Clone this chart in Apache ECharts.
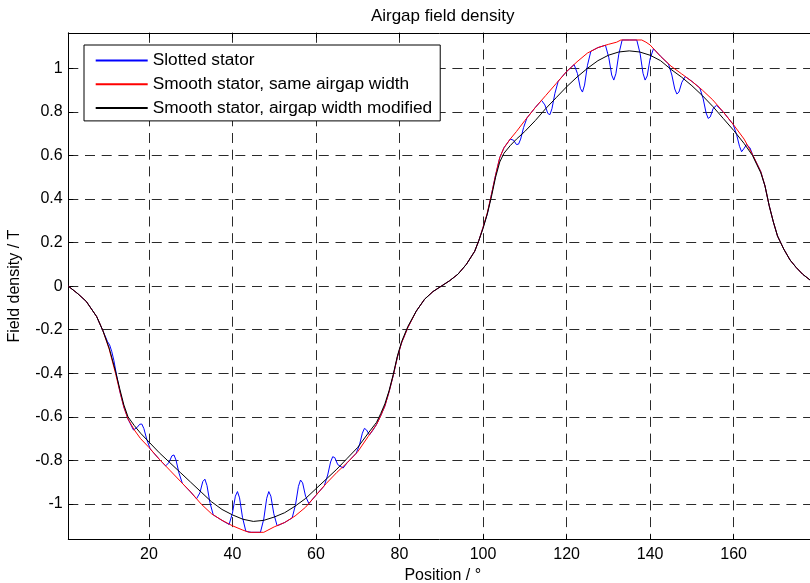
<!DOCTYPE html>
<html>
<head>
<meta charset="utf-8">
<title>Airgap field density</title>
<script src="https://cdn.jsdelivr.net/npm/echarts@6/dist/echarts.min.js"></script>
<style>
  html, body { margin: 0; padding: 0; background: #fff; }
  #chart { width: 810px; height: 583px; }
</style>
</head>
<body>
<div id="chart"></div>
<script>
// Tick positions and legend names
const xTicks = [20, 40, 60, 80, 100, 120, 140, 160];
const yTicks = [-1, -0.8, -0.6, -0.4, -0.2, 0, 0.2, 0.4, 0.6, 0.8, 1];
const seriesNames = [
  'Slotted stator',
  'Smooth stator, same airgap width',
  'Smooth stator, airgap width modified'
];

// Slotted stator: position (deg) and field density (T)
const slottedPos = [
  0.7, 3, 5, 7.5, 9.1, 10.1, 10.6, 11.1, 11.6, 12.3, 13.1, 14, 15,
  16.3, 17.1, 17.8, 18.3, 18.8, 19.5, 20.3, 22.5,
  24.0, 24.8, 25.5, 26.0, 26.5, 27.2, 28.0, 30,
  31.4, 32.2, 32.9, 33.4, 33.9, 34.6, 35.4, 37.5,
  39.2, 40.0, 40.7, 41.2, 41.7, 42.4, 43.2, 44.5,
  46.7, 47.5, 48.2, 48.7, 49.2, 49.9, 50.7, 52.5,
  54.3, 55.1, 55.8, 56.3, 56.8, 57.5, 58.3, 60,
  62.0, 62.8, 63.5, 64.0, 64.5, 65.2, 66.5, 67.5,
  69.6, 70.4, 71.1, 71.6, 72.1, 72.8, 73.6, 74.5,
  75.5, 76.5, 77.5, 78.5, 79.5, 80.5, 82, 84, 86, 88, 90,
  92, 94, 96, 98, 99, 100, 101, 102, 103, 104, 105,
  106.5, 107.3, 108.0, 108.5, 109.0, 109.7, 110.5, 112.5,
  114.0, 114.8, 115.5, 116.0, 116.5, 117.2, 118.0, 120,
  121.8, 122.6, 123.3, 123.8, 124.3, 125.0, 125.8, 127.5,
  129.3, 130.1, 130.8, 131.3, 131.8, 132.5, 133.3, 135,
  136.8, 137.6, 138.3, 138.8, 139.3, 140.0, 140.8, 142.5,
  144.4, 145.2, 145.9, 146.4, 146.9, 147.6, 148.4, 150,
  151.9, 152.7, 153.4, 153.9, 154.4, 155.1, 155.9, 157.5,
  159.9, 160.7, 161.4, 161.9, 162.4, 163.1, 163.9, 164.5,
  165.5, 166.5, 167.5, 168.5, 169.5, 170.5, 172, 173.5, 175, 176.5, 178.3, 180
];
const slottedB = [
  0, -0.035, -0.07, -0.14, -0.21, -0.255, -0.27, -0.30, -0.34, -0.414, -0.488, -0.555, -0.61,
  -0.66, -0.65, -0.634, -0.633, -0.654, -0.704, -0.747, -0.795,
  -0.825, -0.81, -0.779, -0.775, -0.799, -0.858, -0.905, -0.945,
  -0.976, -0.949, -0.897, -0.886, -0.915, -0.993, -1.05, -1.075,
  -1.094, -1.042, -0.964, -0.943, -0.972, -1.061, -1.125, -1.13,
  -1.13, -1.069, -0.974, -0.943, -0.964, -1.045, -1.10, -1.085,
  -1.064, -1.003, -0.919, -0.89, -0.903, -0.964, -0.998, -0.96,
  -0.916, -0.867, -0.807, -0.783, -0.787, -0.819, -0.835, -0.81,
  -0.768, -0.73, -0.675, -0.653, -0.66, -0.683, -0.662, -0.635,
  -0.595, -0.55, -0.485, -0.41, -0.325, -0.26, -0.19, -0.115, -0.06, -0.025, 0,
  0.025, 0.055, 0.1, 0.16, 0.21, 0.27, 0.33, 0.42, 0.51, 0.59, 0.635,
  0.675, 0.67, 0.65, 0.652, 0.675, 0.728, 0.772, 0.82,
  0.853, 0.832, 0.793, 0.787, 0.815, 0.885, 0.941, 0.985,
  1.017, 0.976, 0.908, 0.891, 0.923, 1.014, 1.078, 1.095,
  1.106, 1.05, 0.969, 0.946, 0.975, 1.065, 1.13, 1.13,
  1.13, 1.068, 0.977, 0.946, 0.965, 1.045, 1.09, 1.055,
  1.02, 0.969, 0.905, 0.882, 0.891, 0.936, 0.962, 0.94,
  0.91, 0.86, 0.795, 0.77, 0.777, 0.816, 0.83, 0.80,
  0.742, 0.696, 0.642, 0.617, 0.63, 0.65, 0.635, 0.605,
  0.565, 0.525, 0.46, 0.37, 0.295, 0.23, 0.17, 0.12, 0.085, 0.055, 0.028, 0.005
];

// Smooth stator, same airgap width
const smoothPos = [
  0.7, 3, 5, 7.5, 9, 10.5, 12, 13, 14, 15, 16.5, 18, 20, 22.5, 25, 27.5, 30, 32.5, 35, 37.5,
  40, 42.5, 44, 47.5, 48.5, 50, 52.5, 55, 57.5, 60, 62.5, 65, 67.5, 70, 72.5, 74.5, 75.5, 76.5,
  77.5, 78.5, 79.5, 80.5, 82, 84, 86, 88, 90, 92, 94, 96, 98, 99, 100, 101, 102, 103, 104, 105,
  106.5, 108, 110, 112.5, 115, 117.5, 120, 122.5, 125, 127.5, 130, 132, 133, 138, 139, 140,
  142.5, 145, 147.5, 150, 152.5, 155, 157.5, 160, 162.5, 164.5, 165.5, 166.5, 167.5, 168.5,
  169.5, 170.5, 172, 173.5, 175, 176.5, 178.3, 180
];
const smoothB = [
  0, -0.035, -0.07, -0.14, -0.205, -0.29, -0.40, -0.48, -0.555, -0.61, -0.66, -0.70, -0.74, -0.795, -0.845, -0.895, -0.945, -1.0, -1.045, -1.075,
  -1.10, -1.12, -1.13, -1.13, -1.12, -1.105, -1.085, -1.055, -1.015, -0.96, -0.905, -0.855, -0.81, -0.76, -0.69, -0.635, -0.595, -0.55,
  -0.485, -0.41, -0.325, -0.26, -0.19, -0.115, -0.06, -0.025, 0, 0.025, 0.055, 0.1, 0.16, 0.21, 0.27, 0.335, 0.42, 0.51, 0.59, 0.635,
  0.675, 0.71, 0.76, 0.82, 0.875, 0.93, 0.985, 1.03, 1.07, 1.095, 1.11, 1.12, 1.13, 1.13, 1.12, 1.107,
  1.055, 1.01, 0.975, 0.94, 0.90, 0.855, 0.80, 0.74, 0.675, 0.605, 0.565, 0.525, 0.46, 0.37,
  0.295, 0.23, 0.17, 0.12, 0.085, 0.055, 0.028, 0.005
];

// Smooth stator, airgap width modified
const modifiedPos = [
  0.7, 3, 5, 7.5, 9, 10.5, 12, 13, 14, 15, 16.5, 18, 20, 22.5, 25, 27.5, 30, 32.5, 35, 37.5, 40, 42.5,
  45, 47.5, 50, 52.5, 55, 57.5, 60, 62.5, 65, 67.5, 70, 72.5,
  74.5, 75.5, 76.5, 77.5, 78.5, 79.5, 80.5,
  82, 84, 86, 88, 90,
  92, 94, 96, 98, 99, 100, 101, 102, 103, 104, 105,
  106.5, 108, 110, 112.5, 115, 117.5, 120, 122.5, 125, 127.5, 130, 132.5, 135, 137.5, 140, 142.5, 145, 147.5, 150, 152.5, 155, 157.5, 160, 162.5,
  164.5, 165.5, 166.5, 167.5, 168.5, 169.5, 170.5,
  172, 173.5, 175, 176.5, 178.3, 180
];
const modifiedB = [
  0, -0.035, -0.07, -0.14, -0.205, -0.285, -0.39, -0.47, -0.545, -0.60, -0.64, -0.675, -0.715, -0.765, -0.81, -0.855, -0.90, -0.945, -0.99, -1.025, -1.05, -1.07,
  -1.08, -1.075, -1.06, -1.04, -1.01, -0.975, -0.93, -0.885, -0.84, -0.79, -0.74, -0.675,
  -0.625, -0.585, -0.54, -0.48, -0.405, -0.32, -0.255,
  -0.185, -0.115, -0.06, -0.025, 0,
  0.025, 0.055, 0.1, 0.16, 0.21, 0.265, 0.33, 0.41, 0.5, 0.57, 0.61,
  0.645, 0.675, 0.71, 0.76, 0.815, 0.865, 0.915, 0.96, 1.0, 1.035, 1.06, 1.075, 1.08, 1.075, 1.06, 1.035, 0.995, 0.96, 0.92, 0.875, 0.825, 0.77, 0.715, 0.655,
  0.60, 0.56, 0.52, 0.46, 0.37, 0.295, 0.23,
  0.17, 0.12, 0.085, 0.055, 0.028, 0.005
];

const FONT = '"Liberation Sans", Arial, Helvetica, sans-serif';
const GRID_LINE = { color: '#2a2a2a', width: 1, type: [10, 6.7] };

function pairs(xs, ys) {
  return xs.map(function (x, i) { return [x, ys[i]]; });
}

const chart = echarts.init(document.getElementById('chart'), null, { renderer: 'canvas' });

const lineSeries = function (name, xs, ys, color) {
  return {
    name: name,
    type: 'line',
    data: pairs(xs, ys),
    symbol: 'none',
    smooth: false,
    clip: true,
    lineStyle: { color: color, width: 1 },
    itemStyle: { color: color },
    emphasis: { disabled: true }
  };
};

chart.setOption({
  animation: false,
  backgroundColor: '#fff',
  title: {
    text: 'Airgap field density',
    left: 442.7,
    top: 8,
    textAlign: 'center',
    padding: 0,
    textStyle: { fontFamily: FONT, fontSize: 17, fontWeight: 'normal', color: '#000' }
  },
  legend: {
    orient: 'vertical',
    left: 84,
    top: 45,
    padding: [7, 8, 4.5, 10.7],
    itemGap: 6.7,
    itemWidth: 52,
    itemHeight: 17,
    backgroundColor: '#fff',
    borderColor: '#000',
    borderWidth: 1,
    borderRadius: 0,
    selectedMode: false,
    // line-only keys: hide the marker drawn in the middle of each key
    itemStyle: { opacity: 0 },
    textStyle: { fontFamily: FONT, fontSize: 17.3, color: '#000', lineHeight: 17 },
    data: seriesNames
  },
  grid: {
    left: 68.3, right: -7.2, top: 32.8, bottom: 43.5,
    containLabel: false,
    outerBoundsMode: 'none'
  },
  xAxis: [
    {
      type: 'value',
      min: 0.7,
      max: 180,
      position: 'bottom',
      axisLine: { show: true, onZero: false, lineStyle: { color: '#000', width: 1 } },
      axisTick: { show: true, inside: true, length: 5, customValues: xTicks, lineStyle: { color: '#000' } },
      axisLabel: { customValues: xTicks, margin: 7, fontSize: 16, color: '#000', fontFamily: FONT },
      splitLine: { show: true, lineStyle: GRID_LINE },
      name: 'Position / °',
      nameLocation: 'middle',
      nameGap: 26,
      nameTextStyle: { fontFamily: FONT, fontSize: 16, color: '#000' }
    },
    {
      type: 'value',
      min: 0.7,
      max: 180,
      position: 'top',
      axisLine: { show: true, onZero: false, lineStyle: { color: '#000', width: 1 } },
      axisTick: { show: true, inside: true, length: 5, customValues: xTicks, lineStyle: { color: '#000' } },
      axisLabel: { show: false },
      splitLine: { show: false }
    }
  ],
  yAxis: {
    type: 'value',
    min: -1.163,
    max: 1.163,
    axisLine: { show: true, onZero: false, lineStyle: { color: '#000', width: 1 } },
    axisTick: { show: true, inside: true, length: 5, customValues: yTicks, lineStyle: { color: '#000' } },
    axisLabel: {
      customValues: yTicks, margin: 5.6, fontSize: 16, color: '#000', fontFamily: FONT,
      formatter: function (v) { return String(v); }
    },
    splitLine: { show: true, lineStyle: GRID_LINE },
    name: 'Field density / T',
    nameLocation: 'middle',
    nameGap: 46,
    nameTextStyle: { fontFamily: FONT, fontSize: 16, color: '#000' }
  },
  series: [
    lineSeries(seriesNames[0], slottedPos, slottedB, '#0000ff'),
    lineSeries(seriesNames[1], smoothPos, smoothB, '#ff0000'),
    lineSeries(seriesNames[2], modifiedPos, modifiedB, '#000000')
  ]
});
</script>
</body>
</html>
